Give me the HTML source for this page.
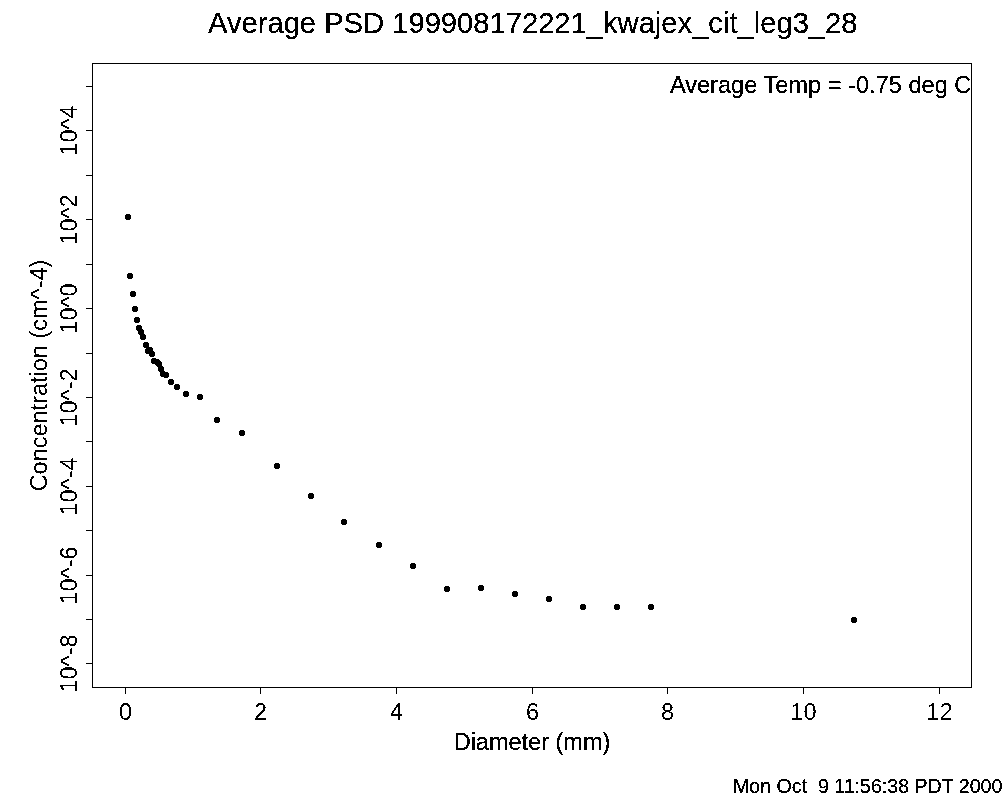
<!DOCTYPE html>
<html><head><meta charset="utf-8"><title>Average PSD</title>
<style>
html,body{margin:0;padding:0;background:#fff;}
body{width:1004px;height:796px;overflow:hidden;font-family:"Liberation Sans",sans-serif;}
svg{display:block;position:absolute;left:0;top:0;}
text{font-family:"Liberation Sans",sans-serif;fill:#000;}
</style></head><body>
<svg width="1004" height="796" viewBox="0 0 1004 796">
<rect x="0" y="0" width="1004" height="796" fill="#fff"/>
<defs><clipPath id="pc"><rect x="92" y="63" width="880" height="625"/></clipPath>
<filter id="th" x="0" y="0" width="1004" height="796" filterUnits="userSpaceOnUse" color-interpolation-filters="sRGB"><feComponentTransfer><feFuncA type="discrete" tableValues="0 1 1"/></feComponentTransfer></filter>
<filter id="th2" x="0" y="0" width="1004" height="796" filterUnits="userSpaceOnUse" color-interpolation-filters="sRGB"><feComponentTransfer><feFuncA type="discrete" tableValues="0 0 1 1"/></feComponentTransfer></filter></defs>
<g filter="url(#th)">
<text x="208" y="32.5" font-size="29.16">Average PSD 199908172221_kwajex_cit_leg3_28</text>
<g stroke="#000" stroke-width="1" fill="none" shape-rendering="crispEdges">
<rect x="92.5" y="63.5" width="879.0" height="624.0"/>
<line x1="125.5" y1="687.5" x2="125.5" y2="694.0"/>
<line x1="260.5" y1="687.5" x2="260.5" y2="694.0"/>
<line x1="396.5" y1="687.5" x2="396.5" y2="694.0"/>
<line x1="532.5" y1="687.5" x2="532.5" y2="694.0"/>
<line x1="667.5" y1="687.5" x2="667.5" y2="694.0"/>
<line x1="803.5" y1="687.5" x2="803.5" y2="694.0"/>
<line x1="939.5" y1="687.5" x2="939.5" y2="694.0"/>
<line x1="86.0" y1="86.5" x2="92.5" y2="86.5"/>
<line x1="86.0" y1="130.5" x2="92.5" y2="130.5"/>
<line x1="86.0" y1="175.5" x2="92.5" y2="175.5"/>
<line x1="86.0" y1="219.5" x2="92.5" y2="219.5"/>
<line x1="86.0" y1="264.5" x2="92.5" y2="264.5"/>
<line x1="86.0" y1="308.5" x2="92.5" y2="308.5"/>
<line x1="86.0" y1="353.5" x2="92.5" y2="353.5"/>
<line x1="86.0" y1="397.5" x2="92.5" y2="397.5"/>
<line x1="86.0" y1="441.5" x2="92.5" y2="441.5"/>
<line x1="86.0" y1="486.5" x2="92.5" y2="486.5"/>
<line x1="86.0" y1="530.5" x2="92.5" y2="530.5"/>
<line x1="86.0" y1="575.5" x2="92.5" y2="575.5"/>
<line x1="86.0" y1="619.5" x2="92.5" y2="619.5"/>
<line x1="86.0" y1="663.5" x2="92.5" y2="663.5"/>
</g>
<text x="532" y="749.8" font-size="23.5" text-anchor="middle">Diameter (mm)</text>
<g clip-path="url(#pc)"><text x="669.9" y="92.7" font-size="23.6">Average Temp = -0.75 deg C</text></g>
<text x="733" y="792.9" font-size="19.6" xml:space="preserve" style="white-space:pre">Mon Oct  9 11:56:38 PDT 2000</text>
</g>
<g filter="url(#th2)">
<text x="125.5" y="720" font-size="23.5" text-anchor="middle">0</text>
<text x="260.5" y="720" font-size="23.5" text-anchor="middle">2</text>
<text x="396.5" y="720" font-size="23.5" text-anchor="middle">4</text>
<text x="532.5" y="720" font-size="23.5" text-anchor="middle">6</text>
<text x="667.5" y="720" font-size="23.5" text-anchor="middle">8</text>
<text x="803.5" y="720" font-size="23.5" text-anchor="middle">10</text>
<text x="939.5" y="720" font-size="23.5" text-anchor="middle">12</text>
<text transform="translate(77,130.5) rotate(-90)" font-size="23.5" text-anchor="middle">10^4</text>
<text transform="translate(77,219.5) rotate(-90)" font-size="23.5" text-anchor="middle">10^2</text>
<text transform="translate(77,308.5) rotate(-90)" font-size="23.5" text-anchor="middle">10^0</text>
<text transform="translate(77,397.5) rotate(-90)" font-size="23.5" text-anchor="middle">10^-2</text>
<text transform="translate(77,486.5) rotate(-90)" font-size="23.5" text-anchor="middle">10^-4</text>
<text transform="translate(77,575.5) rotate(-90)" font-size="23.5" text-anchor="middle">10^-6</text>
<text transform="translate(77,663.5) rotate(-90)" font-size="23.5" text-anchor="middle">10^-8</text>
<text transform="translate(47,375.5) rotate(-90)" font-size="23.5" text-anchor="middle">Concentration (cm^-4)</text>
</g>
<g fill="#000" shape-rendering="crispEdges">
<path d="M126,214h4v1h1v4h-1v1h-4v-1h-1v-4h1zM128,273h4v1h1v4h-1v1h-4v-1h-1v-4h1zM131,291h4v1h1v4h-1v1h-4v-1h-1v-4h1zM133,306h4v1h1v4h-1v1h-4v-1h-1v-4h1zM135,317h4v1h1v4h-1v1h-4v-1h-1v-4h1zM137,325h4v1h1v4h-1v1h-4v-1h-1v-4h1zM139,329h4v1h1v4h-1v1h-4v-1h-1v-4h1zM141,334h4v1h1v4h-1v1h-4v-1h-1v-4h1zM144,342h4v1h1v4h-1v1h-4v-1h-1v-4h1zM146,348h4v1h1v4h-1v1h-4v-1h-1v-4h1zM148,347h4v1h1v4h-1v1h-4v-1h-1v-4h1zM150,351h4v1h1v4h-1v1h-4v-1h-1v-4h1zM152,358h4v1h1v4h-1v1h-4v-1h-1v-4h1zM155,359h4v1h1v4h-1v1h-4v-1h-1v-4h1zM157,361h4v1h1v4h-1v1h-4v-1h-1v-4h1zM159,366h4v1h1v4h-1v1h-4v-1h-1v-4h1zM161,371h4v1h1v4h-1v1h-4v-1h-1v-4h1zM164,372h4v1h1v4h-1v1h-4v-1h-1v-4h1zM169,379h4v1h1v4h-1v1h-4v-1h-1v-4h1zM175,384h4v1h1v4h-1v1h-4v-1h-1v-4h1zM184,391h4v1h1v4h-1v1h-4v-1h-1v-4h1zM198,394h4v1h1v4h-1v1h-4v-1h-1v-4h1zM215,417h4v1h1v4h-1v1h-4v-1h-1v-4h1zM240,430h4v1h1v4h-1v1h-4v-1h-1v-4h1zM275,463h4v1h1v4h-1v1h-4v-1h-1v-4h1zM309,493h4v1h1v4h-1v1h-4v-1h-1v-4h1zM342,519h4v1h1v4h-1v1h-4v-1h-1v-4h1zM377,542h4v1h1v4h-1v1h-4v-1h-1v-4h1zM411,563h4v1h1v4h-1v1h-4v-1h-1v-4h1zM445,586h4v1h1v4h-1v1h-4v-1h-1v-4h1zM479,585h4v1h1v4h-1v1h-4v-1h-1v-4h1zM513,591h4v1h1v4h-1v1h-4v-1h-1v-4h1zM547,596h4v1h1v4h-1v1h-4v-1h-1v-4h1zM581,604h4v1h1v4h-1v1h-4v-1h-1v-4h1zM615,604h4v1h1v4h-1v1h-4v-1h-1v-4h1zM649,604h4v1h1v4h-1v1h-4v-1h-1v-4h1zM852,617h4v1h1v4h-1v1h-4v-1h-1v-4h1z"/>
</g>
</svg>
</body></html>
